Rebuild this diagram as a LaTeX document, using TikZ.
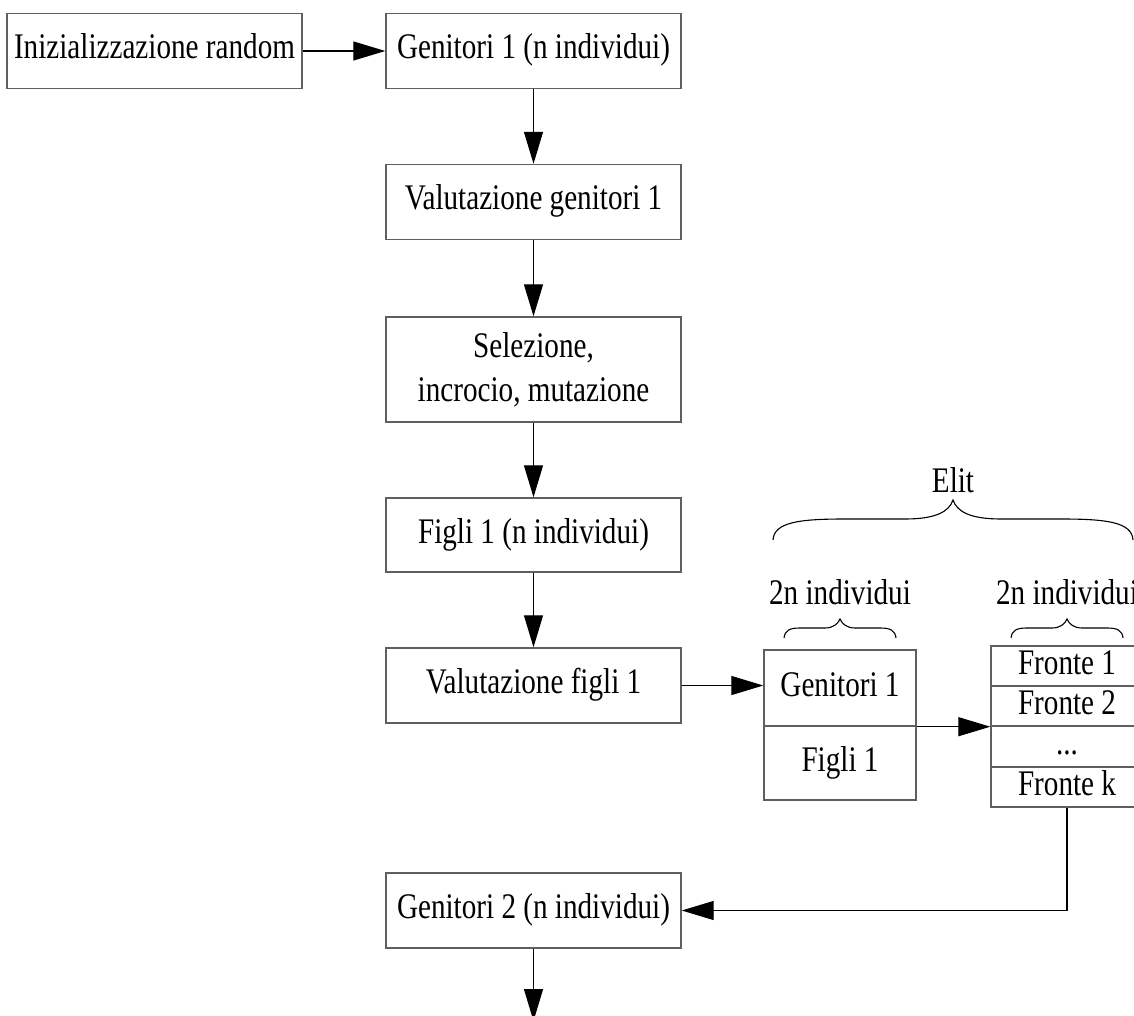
\documentclass[tikz,border=0pt]{standalone}
\usepackage{fontspec}
\setmainfont{Liberation Serif}[FakeStretch=0.81]
\usetikzlibrary{arrows.meta}

\tikzset{
  txt/.style={font=\fontsize{36}{44}\selectfont, inner sep=0pt},
  box/.style={txt, draw={rgb,255:red,95;green,95;blue,95}, line width=1.4pt,
    minimum width=295pt, minimum height=75pt, text height=25pt, text depth=9pt},
  twoline/.style={txt, draw={rgb,255:red,95;green,95;blue,95}, line width=1.4pt,
    minimum width=295pt, minimum height=105pt, align=center},
  cell/.style={txt, draw={rgb,255:red,95;green,95;blue,95}, line width=1.4pt,
    minimum width=152pt, text height=25pt, text depth=9pt},
  arr/.style={draw=black, line width=1.3pt, -{Triangle[length=32pt, width=19pt]}},
  bracestyle/.style={draw=black, line width=1.1pt},
}

\begin{document}
\begin{tikzpicture}[x=1pt, y=-1pt]
  \useasboundingbox (0,0) rectangle (1134,1016);
  \clip (0,0) rectangle (1134,1016);

  % main column
  \node[box] (init)  at (154.5,51)  {Inizializzazione random};
  \node[box] (gen1)  at (533.5,51)  {Genitori 1 (n individui)};
  \node[box] (valg)  at (533.5,202) {Valutazione genitori 1};
  \node[twoline] (sel) at (533.5,369.5) {Selezione,\\ incrocio, mutazione};
  \node[box, minimum height=74pt] (figli) at (533.5,535) {Figli 1 (n individui)};
  \node[box] (valf)  at (533.5,685.5) {Valutazione figli 1};
  \node[box] (gen2)  at (533.5,910.5) {Genitori 2 (n individui)};

  % union of parents and children
  \node[cell, minimum height=76pt] (sgen) at (840,688) {Genitori 1};
  \node[cell, minimum height=74pt] (sfig) at (840,763) {Figli 1};

  % non-dominated fronts
  \node[cell, minimum height=40pt] (f1) at (1067,666)   {Fronte 1};
  \node[cell, minimum height=40pt] (f2) at (1067,706)   {Fronte 2};
  \node[cell, minimum height=41pt] (f3) at (1067,746.5) {...};
  \node[cell, minimum height=40pt] (fk) at (1067,787)   {Fronte k};

  % labels above the braces
  \node[txt, anchor=base] (elit) at (953,492) {Elit};
  \node[txt, anchor=base] (lbla) at (840,604) {2n individui};
  \node[txt, anchor=base] (lblb) at (1067,604) {2n individui};

  % braces
  \draw[bracestyle] (773,540) .. controls (774,522) and (800,519) .. (845,519)
    -- (905,519) .. controls (935,519) and (949,512) .. (953,500)
    .. controls (957,512) and (971,519) .. (1001,519)
    -- (1061,519) .. controls (1106,519) and (1132,522) .. (1133,540);
  \foreach \cx in {840,1067} {
    \draw[bracestyle] (\cx-56,638) .. controls (\cx-55,630) and (\cx-50,628) .. (\cx-40,628)
      -- (\cx-15,628) .. controls (\cx-7,628) and (\cx-2,624) .. (\cx,619)
      .. controls (\cx+2,624) and (\cx+7,628) .. (\cx+15,628)
      -- (\cx+40,628) .. controls (\cx+50,628) and (\cx+55,630) .. (\cx+56,638);
  }

  % connectors
  \coordinate (next) at (533.5,1021);
  \draw[arr] (init) -- (gen1);
  \draw[arr] (gen1) -- (valg);
  \draw[arr] (valg) -- (sel);
  \draw[arr] (sel) -- (figli);
  \draw[arr] (figli) -- (valf);
  \draw[arr] (valf.east) -- (valf.east -| sgen.west);
  \draw[arr] (sgen.south east) -- (f2.south west);
  \draw[arr] (fk.south) |- (gen2.east);
  \draw[arr] (gen2.south) -- (next);
\end{tikzpicture}
\end{document}
